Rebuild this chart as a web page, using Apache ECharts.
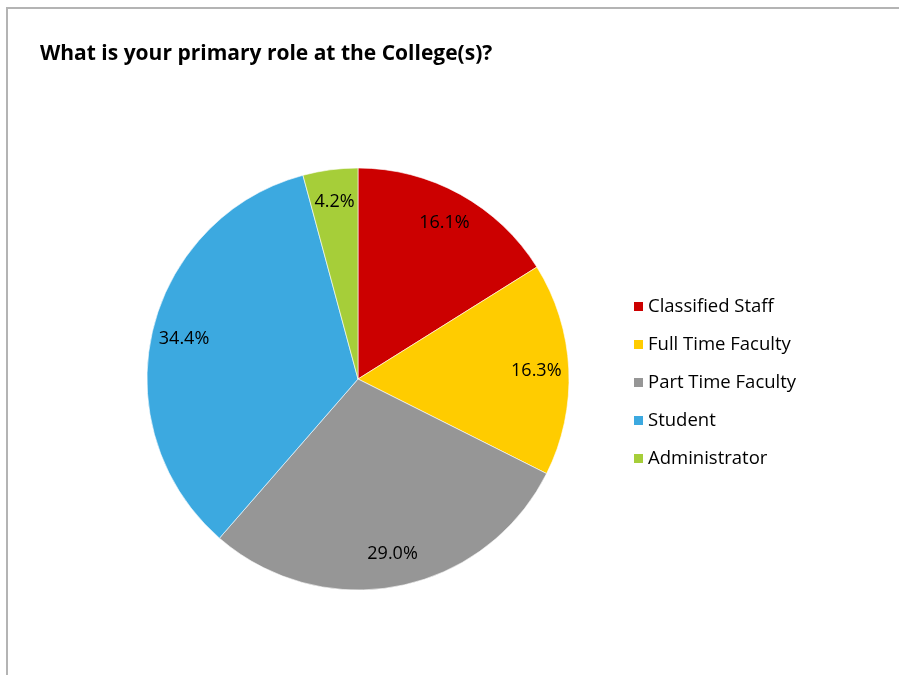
<!DOCTYPE html>
<html>
<head>
<meta charset="utf-8">
<script src="https://cdn.jsdelivr.net/npm/echarts@6/dist/echarts.min.js"></script>
<style>
  html, body { margin: 0; padding: 0; background: #fff; }
  #frame { position: absolute; left: 6px; top: 7px; width: 893px; height: 668px;
           border-left: 2px solid #b4b4b4; border-top: 2px solid #b4b4b4; box-sizing: border-box; }
  #chart { position: absolute; left: 0; top: 0; width: 899px; height: 675px; }
</style>
</head>
<body>
<div id="frame"></div>
<div id="chart"></div>
<script>
// Survey responses: primary role at the College(s)
const roles = ['Classified Staff', 'Full Time Faculty', 'Part Time Faculty', 'Student', 'Administrator'];
const shares = [16.1, 16.3, 29.0, 34.4, 4.2];
const colors = ['#CC0000', '#FFCC00', '#969696', '#3CA9E0', '#A6CE39'];

const font = 'Open Sans';
const slices = roles.map((name, i) => ({ name, value: shares[i] }));

const chart = echarts.init(document.getElementById('chart'), null, { renderer: 'canvas' });
chart.setOption({
  animation: false,
  color: colors,
  title: {
    text: 'What is your primary role at the College(s)?',
    left: 35, top: 39,
    textStyle: { fontFamily: font, fontWeight: 'bold', fontSize: 21, color: '#000' }
  },
  legend: {
    orient: 'vertical',
    left: 627, top: 292,
    itemWidth: 11, itemHeight: 11, itemGap: 19,
    icon: 'rect',
    data: roles,
    textStyle: { fontFamily: font, fontSize: 18.5, color: '#000', padding: [0, 0, 0, -1] }
  },
  series: [
    {
      type: 'pie',
      center: [358, 379],
      radius: [0, 211],
      startAngle: 90,
      clockwise: true,
      label: { show: false },
      labelLine: { show: false },
      itemStyle: { borderColor: '#ffffff', borderWidth: 0.6 },
      data: slices
    },
    {
      // ring used only to place the percentage labels near the rim
      type: 'pie',
      center: [358, 379],
      radius: [140, 211],
      startAngle: 90,
      clockwise: true,
      silent: true,
      legendHoverLink: false,
      itemStyle: { color: 'rgba(0,0,0,0)' },
      label: {
        show: true,
        position: 'inside',
        formatter: p => p.value.toFixed(1) + '%',
        fontFamily: font, fontSize: 18, color: '#000'
      },
      labelLine: { show: false },
      data: slices
    }
  ]
});
</script>
</body>
</html>
